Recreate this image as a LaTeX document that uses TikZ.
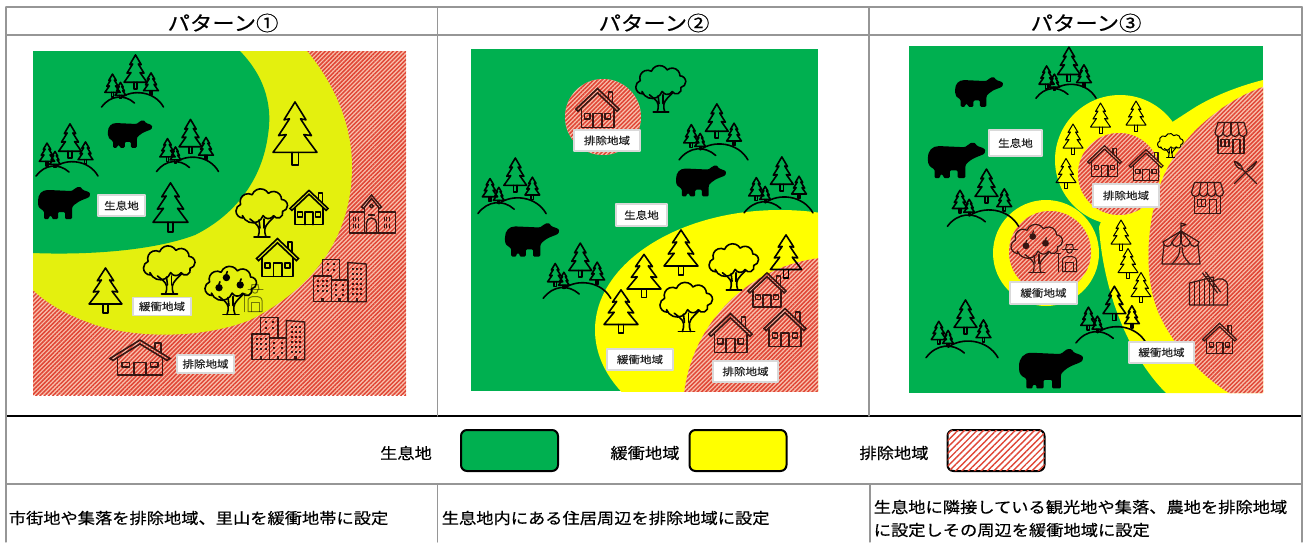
\documentclass[tikz,border=0pt]{standalone}
\usepackage{fontspec}
\usetikzlibrary{patterns.meta,calc}
\newfontfamily\jp[FakeStretch=1.12,FakeBold=0.4]{Noto Sans CJK JP}

\definecolor{habitat}{RGB}{0,176,80}
\definecolor{bufferlime}{RGB}{228,240,14}
\definecolor{bufferyel}{RGB}{255,255,0}
\definecolor{hatchbg}{RGB}{248,192,172}
\definecolor{hatchfg}{RGB}{224,70,54}
\definecolor{gridgray}{RGB}{150,150,150}
\definecolor{inkred}{RGB}{55,22,18}

\tikzset{
  hatch/.style={fill=hatchbg, postaction={pattern={Lines[angle=45,distance=3pt,line width=1.5pt]}, pattern color=hatchfg}},
  keyhatch/.style={fill=white, postaction={pattern={Lines[angle=45,distance=4.5pt,line width=1.4pt]}, pattern color=hatchfg}},
  tag/.style={draw=black!15, fill=white, inner sep=0pt, text=black!85, font=\jp\fontsize{10.3}{12}\selectfont},
  headtxt/.style={inner sep=0pt, font=\jp\fontsize{20}{24}\selectfont},
  keytxt/.style={inner sep=0pt, font=\jp\fontsize{15.4}{18}\selectfont},
  keybox/.style={draw=black, line width=2pt, rounded corners=6pt, minimum width=97pt, minimum height=41pt, inner sep=0pt},
  bodytxt/.style={inner sep=0pt, anchor=west, align=left, font=\jp\fontsize{15.4}{23}\selectfont},
  rulel/.style={draw=gridgray, line width=1.3pt},
  % conifer, centred, 40 x 60
  pics/pine/.style={code={
    \draw (0,-30) -- (-10,-13) -- (-5,-14) -- (-15,2) -- (-8,1) -- (-20,18) -- (20,18) -- (8,1) -- (15,2) -- (5,-14) -- (10,-13) -- cycle;
    \draw (-3,18) -- (-3,30) -- (3,30) -- (3,18);
  }},
  % group of conifers on two hills, 62 x 52
  pics/forest/.style={code={
    \draw (-31,26) .. controls (-22,14) and (-8,13) .. (2,22);
    \draw (-12,17) .. controls (0,8) and (22,10) .. (31,26);
    \pic[scale=0.57] at (3,-9) {pine};
    \pic[scale=0.37] at (18.5,3) {pine};
    \pic[scale=0.38] at (-20,4.5) {pine};
    \pic[scale=0.27] at (-12,9.5) {pine};
  }},
  % bear silhouette, 52 x 32
  pics/bear/.style={code={
    \fill[rounded corners=1.2pt] (-26,-2) .. controls (-26,-10) and (-22,-14) .. (-15,-14)
      -- (7,-13) .. controls (10,-14) and (12,-17) .. (15,-17)
      .. controls (17,-17) and (18,-15) .. (19,-14)
      .. controls (22,-13) and (26,-12) .. (26,-9)
      .. controls (25,-6) and (20,-5) .. (16,-3)
      .. controls (12,-1) and (9,2) .. (8,4)
      -- (8,15) -- (1,15) -- (1,8)
      -- (-6,8) -- (-6,15) -- (-12,15) -- (-12,12) -- (-15,12) -- (-15,15) -- (-20,15) -- (-20,7)
      .. controls (-24,5) and (-26,3) .. (-26,-2) -- cycle;
  }},
  % house with chimney, 40 x 36
  pics/house/.style={code={
    \draw[line join=miter] (-20,1) -- (0,-18) -- (20,1) -- (18,3) -- (0,-14) -- (-18,3) -- cycle;
    \draw (10,-8.5) -- (10,-15) -- (14,-15) -- (14,-4.7);
    \draw (-15,0) -- (-15,18) -- (15,18) -- (15,0);
    \draw (-4,18) -- (-4,5) -- (4,5) -- (4,18);
    \draw (-12,5) rectangle (-7,10);
    \draw (7,5) rectangle (12,10);
  }},
  % broadleaf tree, 52 x 50
  pics/leafy/.style={code={
    \draw (-19,6) arc[start angle=90,end angle=250,radius=7]
      arc[start angle=160,end angle=300,radius=8]
      arc[start angle=200,end angle=330,radius=9]
      arc[start angle=230,end angle=360,radius=8]
      arc[start angle=270,end angle=440,radius=6]
      arc[start angle=-20,end angle=150,radius=5]
      arc[start angle=30,end angle=150,radius=6]
      arc[start angle=20,end angle=160,radius=11] -- cycle;
    \draw (-8,25) -- (8,25);
    \draw (-4,25) .. controls (-2,19) and (-2,15) .. (-7,11) -- (-12,7);
    \draw (4,25) .. controls (2,19) and (2,15) .. (7,10) -- (12,5);
    \draw (-2,16) -- (-3,8);
    \draw (2,16) -- (2,7);
  }},
  % fruit tree
  pics/apple/.style={code={
    \pic {leafy};
    \foreach \ax/\ay in {-5/-13,-13/-2,10/-5} {
      \fill (\ax,\ay) circle (4);
      \draw (\ax,\ay-4) -- (\ax+1,\ay-6.5);
    }
  }},
  % farmer with rake, 24 x 29
  pics/farmer/.style={code={
    \draw (-7,-8) -- (8,-8);
    \draw (-4,-8) -- (-3,-13) -- (3,-13) -- (4,-8);
    \draw (-3,-8) .. controls (-3,-3) and (3,-3) .. (3,-8);
    \draw (-7,14) -- (-7,3) .. controls (-7,0) and (-4,-1) .. (0,-1) .. controls (4,-1) and (7,0) .. (7,3) -- (7,14) -- cycle;
    \draw (-4,14) -- (-4,5) -- (4,5) -- (4,14);
    \draw (-11,14) -- (-11,-4);
    \draw (-13,-4) -- (-9,-4);
  }},
  % tower blocks, 54 x 43
  pics/blocks/.style={code={
    \draw (-17.8,-4.5) -- (-17.8,-21.2) -- (-0.5,-21.2) -- (-0.5,-0.5);
    \draw (-26.5,-4.5) rectangle (-8.8,21.2);
    \draw (-8.8,-0.5) rectangle (7.8,21.2);
    \draw (7.8,21.2) -- (7.8,-18) -- (26.2,-16.5) -- (26.2,21.2) -- cycle;
    \foreach \wx in {-12.5,-6} \foreach \wy in {-17,-11} \fill (\wx-1,\wy-1) rectangle ++(2,2);
    \foreach \wx in {-22,-17.5,-13} \foreach \wy in {0,5,10} \fill (\wx-1,\wy-1) rectangle ++(2,2);
    \foreach \wx in {-4.5,3} \foreach \wy in {4,9,14} \fill (\wx-1,\wy-1) rectangle ++(2,2);
    \foreach \wx in {13,17,21} \foreach \wy in {-12,-7,-2,3,8,13} \fill (\wx-1,\wy-1) rectangle ++(2,2);
    \fill (-18.8,17) rectangle (-16.2,21.2);
    \fill (-1.8,17) rectangle (0.8,21.2);
    \fill (15.7,17) rectangle (18.3,21.2);
  }},
  % school with bell gable, 48 x 40
  pics/school/.style={code={
    \draw[line join=miter] (-11,-7) -- (-1,-19) -- (9,-7) -- (7,-5.5) -- (-1,-15.5) -- (-9,-5.5) -- cycle;
    \draw (-1,-8) circle (1.8);
    \draw (-8,-6) -- (-8,19);
    \draw (6,-6) -- (6,19);
    \draw (-8,-2) -- (-23,-2) -- (-23,19) -- (23,19) -- (23,-2) -- (6,-2);
    \draw (-6,19) -- (-6,9) arc[start angle=180,end angle=360,radius=5] -- (4,19);
    \draw (-4,1) -- (2,1);
    \foreach \sx in {-19.5,-17,-14.5,11.5,14,16.5} {
      \draw[line width=0.8pt] (\sx,3) -- (\sx,7);
      \draw[line width=0.8pt] (\sx,10) -- (\sx,14);
    }
  }},
  % shop with striped awning, 34 x 31
  pics/shop/.style={code={
    \draw (-13,-15) -- (13,-15) -- (16,-5) arc[start angle=0,end angle=180,radius=4]
      arc[start angle=0,end angle=180,radius=4] arc[start angle=0,end angle=180,radius=4]
      arc[start angle=0,end angle=180,radius=4] -- cycle;
    \foreach \k in {1,2,3} \draw (-13+6.5*\k,-15) -- (-16+8*\k,-5);
    \draw (-13,-1) -- (-13,16) -- (13,16) -- (13,-1);
    \draw (-10,2) rectangle (-2,9);
    \draw (-6,2) -- (-6,9);
    \draw (2,16) -- (2,2) -- (9,2) -- (9,16);
  }},
  % crossed fork and knife, 25 x 25
  pics/cutlery/.style={code={
    \draw (-3,-3) -- (11,11);
    \draw (-3,-3) .. controls (-7,-3) and (-11,-8) .. (-11,-11) .. controls (-8,-11) and (-3,-7) .. (-3,-3);
    \draw (-6,-7) -- (-9.5,-10.5);
    \draw (11,-11) .. controls (8,-5) and (5,-2) .. (1,-1) -- (-11,11);
    \draw (11,-11) -- (2,-3);
  }},
  % circus tent, 40 x 42
  pics/tent/.style={code={
    \draw (0,-13) -- (0,-21) -- (5,-19.5) -- (0,-17.5);
    \draw (-18,-2) -- (0,-13) -- (18,-2);
    \draw (-18,-2) arc[start angle=180,end angle=0,radius=4.5] arc[start angle=180,end angle=0,radius=4.5]
      arc[start angle=180,end angle=0,radius=4.5] arc[start angle=180,end angle=0,radius=4.5];
    \draw (0,-13) .. controls (-4,-8) .. (-9,-2);
    \draw (0,-13) .. controls (4,-8) .. (9,-2);
    \draw (0,-13) -- (0,-2);
    \draw (-17,1) -- (-19,20) -- (19,20) -- (17,1);
    \draw (-1,3) .. controls (-2,12) .. (-9,20);
    \draw (1,3) .. controls (2,12) .. (9,20);
  }},
  % farm shed with planks and ladder, 41 x 32
  pics/barn/.style={code={
    \draw (-19,16) -- (-19,-6) -- (5,-12) -- (5,16) -- cycle;
    \foreach \bx in {-14,-9,-4,1} \draw (\bx,16) -- (\bx,-7.5-0.25*\bx-3.6);
    \draw (5,16) -- (19,16) -- (19,-3) .. controls (19,-11) and (10,-12) .. (5,-8);
    \draw (-6,-16) -- (9,4);
    \draw (-3,-17) -- (12,3);
    \foreach \lt in {0.2,0.45,0.7} \draw ($(-6,-16)!\lt!(9,4)$) -- ($(-3,-17)!\lt!(12,3)$);
  }}
}

\begin{document}
\begin{tikzpicture}[x=1pt,y=-1pt,line width=1.6pt,line join=round,line cap=round]
\useasboundingbox (0,0) rectangle (1306,542);
\fill[white] (0,0) rectangle (1306,542);

% ---------- Pattern 1: town and satoyama ----------
\begin{scope}
  \clip (33,51) rectangle (406,395);
  \path[hatch] (33,51) rectangle (406,395);
  \fill[bufferlime] (307,51) .. controls (335,85) and (352,125) .. (352,167)
    .. controls (352,230) and (320,285) .. (250,320)
    .. controls (200,340) and (130,338) .. (90,323)
    .. controls (65,314) and (45,302) .. (33,290) -- (33,51) -- cycle;
  \fill[habitat] (240,51) .. controls (268,80) and (272,110) .. (268,135)
    .. controls (262,180) and (235,215) .. (195,235)
    .. controls (150,252) and (80,255) .. (33,253) -- (33,51) -- cycle;
\end{scope}
\pic at (132.5,81) {forest};
\pic[scale=0.85] at (130,135) {bear};
\pic at (67,150) {forest};
\pic at (187.5,145.5) {forest};
\pic at (64,204) {bear};
\pic[xscale=0.875,yscale=0.82] at (170.5,207.5) {pine};
\pic[xscale=1.1,yscale=1.05] at (295,133.5) {pine};
\pic at (262,212) {leafy};
\pic[scale=0.95] at (309,207.5) {house};
\pic[scale=1.05] at (277.5,257.5) {house};
\pic at (169.5,269) {leafy};
\pic[xscale=0.82,yscale=0.75] at (105.5,290.5) {pine};
\pic[scale=0.92] at (231,289.5) {apple};
\pic[opacity=0.5,line width=1pt] at (255,297.5) {farmer};
\pic[inkred,line width=1.4pt] at (372.5,214) {school};
\pic[inkred,line width=1.4pt] at (340,280.5) {blocks};
\pic[inkred,line width=1.4pt] at (278.5,338.5) {blocks};
\pic[inkred,xscale=1.5,yscale=0.97] at (140,357.5) {house};
\node[tag, minimum width=47pt, minimum height=21pt] (p1hab) at (121.5,205.5) {生息地};
\node[tag, minimum width=58pt, minimum height=18pt] (p1buf) at (162,306.5) {緩衝地域};
\node[tag, minimum width=57pt, minimum height=18pt] (p1exc) at (205.5,364) {排除地域};

% ---------- Pattern 2: houses inside the habitat ----------
\begin{scope}
  \clip (471,49) rectangle (818,391);
  \fill[habitat] (471,49) rectangle (818,391);
  \fill[bufferyel] (780,330) ellipse [x radius=185, y radius=120];
  \path[hatch] (838,412) circle (155);
  \path[hatch] (603,117) circle (38);
\end{scope}
\pic[inkred,scale=1.08] at (597.5,108) {house};
\pic[scale=0.97] at (661,88) {leafy};
\pic[scale=1.11] at (713.5,131) {forest};
\pic[scale=0.96] at (701,182) {bear};
\pic[scale=1.11] at (778.5,184) {forest};
\pic[scale=1.1] at (512,185) {forest};
\pic[scale=1.04] at (532,241) {bear};
\pic[scale=1.09] at (577,270) {forest};
\pic[xscale=0.85,yscale=0.72] at (621,311.5) {pine};
\pic[xscale=0.85,yscale=0.72] at (644,276) {pine};
\pic[xscale=0.85,yscale=0.75] at (681,252.5) {pine};
\pic[scale=0.96] at (734,266) {leafy};
\pic[xscale=0.78,yscale=0.72] at (786,256.5) {pine};
\pic[scale=1.02] at (686.5,306) {leafy};
\pic[inkred,scale=0.95] at (767,290) {house};
\pic[inkred,scale=1.08] at (730.5,333) {house};
\pic[inkred,scale=1.05] at (785,327.5) {house};
\node[tag, minimum width=66pt, minimum height=21pt] (p2exca) at (607,140.5) {排除地域};
\node[tag, minimum width=51pt, minimum height=22pt] (p2hab) at (641.5,215) {生息地};
\node[tag, minimum width=66pt, minimum height=21pt] (p2buf) at (640,359.5) {緩衝地域};
\node[tag, minimum width=65pt, minimum height=21pt] (p2excb) at (745.5,371.5) {排除地域};

% ---------- Pattern 3: tourist sites, villages and farms ----------
\begin{scope}
  \clip (909,46) rectangle (1263,393);
  \fill[habitat] (909,46) rectangle (1263,393);
  \fill[bufferyel] (1263,80) .. controls (1235,87) and (1210,98) .. (1194,108)
    -- (1160,130) -- (1120,170) -- (1099,227)
    .. controls (1103,290) and (1128,355) .. (1166,393) -- (1263,393) -- cycle;
  \fill[bufferyel] (1120,160) circle (65);
  \fill[bufferyel] (1046,253) circle (53);
  \path[hatch] (1263,87) .. controls (1225,100) and (1180,135) .. (1162,180)
    .. controls (1145,225) and (1143,285) .. (1162,320)
    .. controls (1178,352) and (1205,378) .. (1229,393) -- (1263,393) -- cycle;
  \path[hatch] (1119,174) circle (41);
  \path[hatch] (1050,252) circle (41);
\end{scope}
\pic[scale=0.92] at (979,93) {bear};
\pic[scale=0.97] at (1066,73) {forest};
\pic[scale=1.1] at (956.5,161.5) {bear};
\pic[scale=1.15] at (983,196.5) {forest};
\pic[scale=1.16] at (962,327.5) {forest};
\pic[scale=1.23] at (1051,370) {bear};
\pic[scale=1.13] at (1111,313.5) {forest};
\foreach \tx/\ty in {1100.5/118,1136/116,1073/139,1066/173.5,1121/235,1128/263.5,1141/287.5}
  \pic[scale=0.5,line width=1pt] at (\tx,\ty) {pine};
\pic[scale=0.5,line width=1pt] at (1170.5,145) {leafy};
\pic[inkred,scale=0.85,line width=1.2pt] at (1104.5,161) {house};
\pic[inkred,scale=0.85,line width=1.2pt] at (1146,165) {house};
\pic[inkred,scale=0.85,line width=1.2pt] at (1037,247.5) {apple};
\pic[inkred,line width=1pt] at (1069.5,257.5) {farmer};
\pic[inkred,line width=1.2pt] at (1231,137.5) {shop};
\pic[inkred,line width=1.2pt] at (1245.5,172.5) {cutlery};
\pic[inkred,line width=1.2pt] at (1207.5,197.5) {shop};
\pic[inkred,line width=1.2pt] at (1181,244) {tent};
\pic[inkred,line width=1.2pt] at (1208.5,289) {barn};
\pic[inkred,scale=0.85,line width=1.2pt] at (1219.5,338.5) {house};
\node[tag, minimum width=53pt, minimum height=26pt] (p3hab) at (1015.5,143) {生息地};
\node[tag, minimum width=66pt, minimum height=23pt] (p3exc) at (1126,195.5) {排除地域};
\node[tag, minimum width=67pt, minimum height=22pt] (p3bufa) at (1043.5,293) {緩衝地域};
\node[tag, minimum width=65pt, minimum height=21pt] (p3bufb) at (1161.5,352.5) {緩衝地域};

% ---------- table rules ----------
\draw[rulel] (6,7) -- (1302,7);
\draw[rulel] (6,35) -- (1302,35);
\draw[draw=black, line width=1.6pt] (6,416) -- (1302,416);
\draw[rulel] (6,484) -- (1302,484);
\draw[rulel] (6,7) -- (6,542);
\draw[rulel] (1302,7) -- (1302,542);
\draw[rulel] (437.5,7) -- (437.5,416);
\draw[rulel] (869,7) -- (869,416);
\draw[rulel] (437.5,484) -- (437.5,542);
\draw[rulel] (870,484) -- (870,542);

% ---------- headers ----------
\node[headtxt] (h1) at (223,23) {パターン①};
\node[headtxt] (h2) at (654,23) {パターン②};
\node[headtxt] (h3) at (1086,23) {パターン③};

% ---------- key ----------
\node[keytxt] (khabt) at (406,453) {生息地};
\node[keybox, fill=habitat] (khab) at (509.5,450.5) {};
\node[keytxt] (kbuft) at (645,453) {緩衝地域};
\node[keybox, fill=bufferyel] (kbuf) at (738,450.5) {};
\node[keytxt] (kexct) at (894,453) {排除地域};
\node[keybox, keyhatch] (kexc) at (996,450.5) {};

% ---------- descriptions ----------
\node[bodytxt] (d1) at (8,518) {市街地や集落を排除地域、里山を緩衝地帯に設定};
\node[bodytxt] (d2) at (441,518) {生息地内にある住居周辺を排除地域に設定};
\node[bodytxt] (d3) at (873,518.5) {生息地に隣接している観光地や集落、農地を排除地域\\に設定しその周辺を緩衝地域に設定};
\end{tikzpicture}
\end{document}
